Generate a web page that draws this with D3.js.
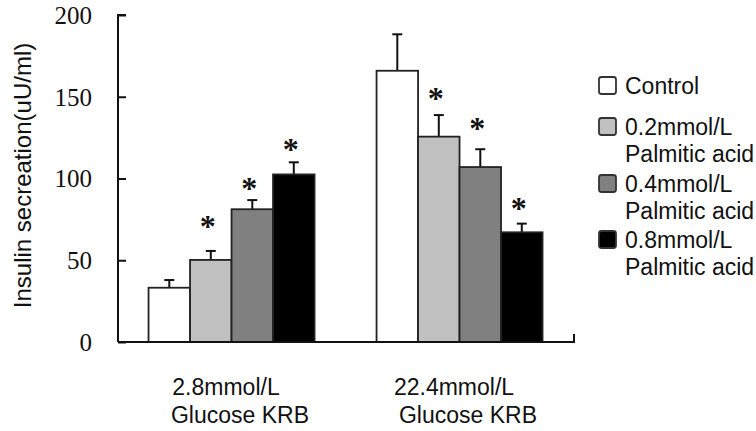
<!DOCTYPE html>
<html>
<head>
<meta charset="utf-8">
<script src="https://cdn.jsdelivr.net/npm/d3@7"></script>
<style>
  html, body { margin: 0; padding: 0; background: #fff; }
  svg { display: block; }
</style>
</head>
<body>
<svg id="chart" width="756" height="431"></svg>
<script>
// ---- data ----
const groups = ["2.8mmol/L\nGlucose KRB", "22.4mmol/L\nGlucose KRB"];
const seriesNames = ["Control", "0.2mmol/L\nPalmitic acid", "0.4mmol/L\nPalmitic acid", "0.8mmol/L\nPalmitic acid"];
const seriesColors = ["#ffffff", "#c0c0c0", "#808080", "#000000"];
const meanLow  = [33.2, 50.2, 81.2, 102.5];
const meanHigh = [165.9, 125.6, 107.0, 67.1];
const errLow   = [4.7, 5.5, 5.6, 7.4];
const errHigh  = [22.3, 13.2, 10.9, 5.3];
// significance markers (value at which the star sits, null = none)
const starLow  = [null, 71.6, 95.0, 118.7];
const starHigh = [null, 149.8, 131.7, 82.8];
const yTicks = [0, 50, 100, 150, 200];

const means = [meanLow, meanHigh];
const errs = [errLow, errHigh];
const stars = [starLow, starHigh];

const svg = d3.select("#chart");
const mLeft = 118, mRight = 574, mTop = 15, mBottom = 342;

const y = d3.scaleLinear().domain([0, 200]).range([mBottom, mTop]);
const x0 = d3.scaleBand().domain(groups).range([mLeft, mRight]).padding(0);
const bw = x0.bandwidth();
const x1 = d3.scaleBand().domain(d3.range(seriesNames.length))
  .range([bw * 0.134, bw * 0.862]).padding(0);

const data = [];
groups.forEach((g, gi) => {
  seriesNames.forEach((s, si) => {
    data.push({g, gi, si, v: means[gi][si], e: errs[gi][si], star: stars[gi][si]});
  });
});

// error bars (drawn first so bar tops cover the stem base)
const eb = svg.append("g");
data.forEach(d => {
  const cx = x0(d.g) + x1(d.si) + x1.bandwidth() / 2;
  eb.append("line").attr("x1", cx).attr("x2", cx)
    .attr("y1", y(d.v)).attr("y2", y(d.v + d.e))
    .attr("stroke", "#111").attr("stroke-width", 2);
  eb.append("line").attr("x1", cx - 5).attr("x2", cx + 5)
    .attr("y1", y(d.v + d.e)).attr("y2", y(d.v + d.e))
    .attr("stroke", "#111").attr("stroke-width", 2);
});

// bars
svg.append("g").selectAll("rect").data(data).join("rect")
  .attr("x", d => x0(d.g) + x1(d.si))
  .attr("y", d => y(d.v))
  .attr("width", x1.bandwidth())
  .attr("height", d => y(0) - y(d.v))
  .attr("fill", d => seriesColors[d.si])
  .attr("stroke", "#222")
  .attr("stroke-width", 1.8);

// stars
svg.append("g").selectAll("text").data(data.filter(d => d.star != null)).join("text")
  .attr("x", d => x0(d.g) + x1(d.si) + x1.bandwidth() / 2 - 3)
  .attr("y", d => y(d.star) + 12)
  .attr("text-anchor", "middle")
  .attr("font-family", "Liberation Serif, serif")
  .attr("font-weight", "bold")
  .attr("font-size", 32)
  .attr("fill", "#111")
  .text("*");

// y axis
const yAxis = d3.axisRight(y).tickValues(yTicks).tickSize(8).tickFormat("");
const ya = svg.append("g").attr("transform", `translate(${mLeft},0)`).call(yAxis);
ya.select(".domain").attr("d", `M8,${mTop}H0V${mBottom}`).attr("stroke", "#111").attr("stroke-width", 2);
ya.selectAll(".tick line").attr("stroke", "#111").attr("stroke-width", 2);

svg.append("g").selectAll("text").data(yTicks).join("text")
  .attr("x", mLeft - 26)
  .attr("y", d => y(d))
  .attr("dy", "0.35em")
  .attr("text-anchor", "end")
  .attr("font-family", "Liberation Serif, Times New Roman, serif")
  .attr("font-size", 25)
  .attr("fill", "#111")
  .text(d => d);

// x axis
const xAxis = d3.axisTop(x0).tickSize(0).tickFormat("");
const xa = svg.append("g").attr("transform", `translate(0,${mBottom})`).call(xAxis);
xa.select(".domain").attr("d", `M${mLeft},0H${mRight}V-8`).attr("stroke", "#111").attr("stroke-width", 2).attr("fill", "none");

// x labels
groups.forEach(g => {
  const lines = g.split("\n");
  const cx = x0(g) + bw / 2;
  svg.append("text")
    .attr("x", cx - 6).attr("y", 395)
    .attr("text-anchor", "middle")
    .attr("font-family", "Liberation Sans, Arial, sans-serif")
    .attr("font-size", 23).attr("fill", "#111")
    .text(lines[0]);
  svg.append("text")
    .attr("x", cx + 8).attr("y", 423)
    .attr("text-anchor", "middle")
    .attr("font-family", "Liberation Sans, Arial, sans-serif")
    .attr("font-size", 23).attr("fill", "#111")
    .text(lines[1]);
});

// y title
svg.append("text")
  .attr("transform", `translate(31,175.5) rotate(-90)`)
  .attr("text-anchor", "middle")
  .attr("font-family", "Liberation Sans, Arial, sans-serif")
  .attr("font-size", 24).attr("fill", "#111")
  .text("Insulin secreation(uU/ml)");

// legend
const legendBaselines = [94, 135, 192, 248];
const lg = svg.append("g");
seriesNames.forEach((s, i) => {
  const by = legendBaselines[i];
  lg.append("rect")
    .attr("x", 599).attr("y", by - 17)
    .attr("width", 17).attr("height", 17)
    .attr("rx", 2.5)
    .attr("fill", seriesColors[i])
    .attr("stroke", "#333").attr("stroke-width", 1.8);
  s.split("\n").forEach((line, li) => {
    lg.append("text")
      .attr("x", 625).attr("y", by + li * 27)
      .attr("font-family", "Liberation Sans, Arial, sans-serif")
      .attr("font-size", 23).attr("fill", "#111")
      .text(line);
  });
});
</script>
</body>
</html>
